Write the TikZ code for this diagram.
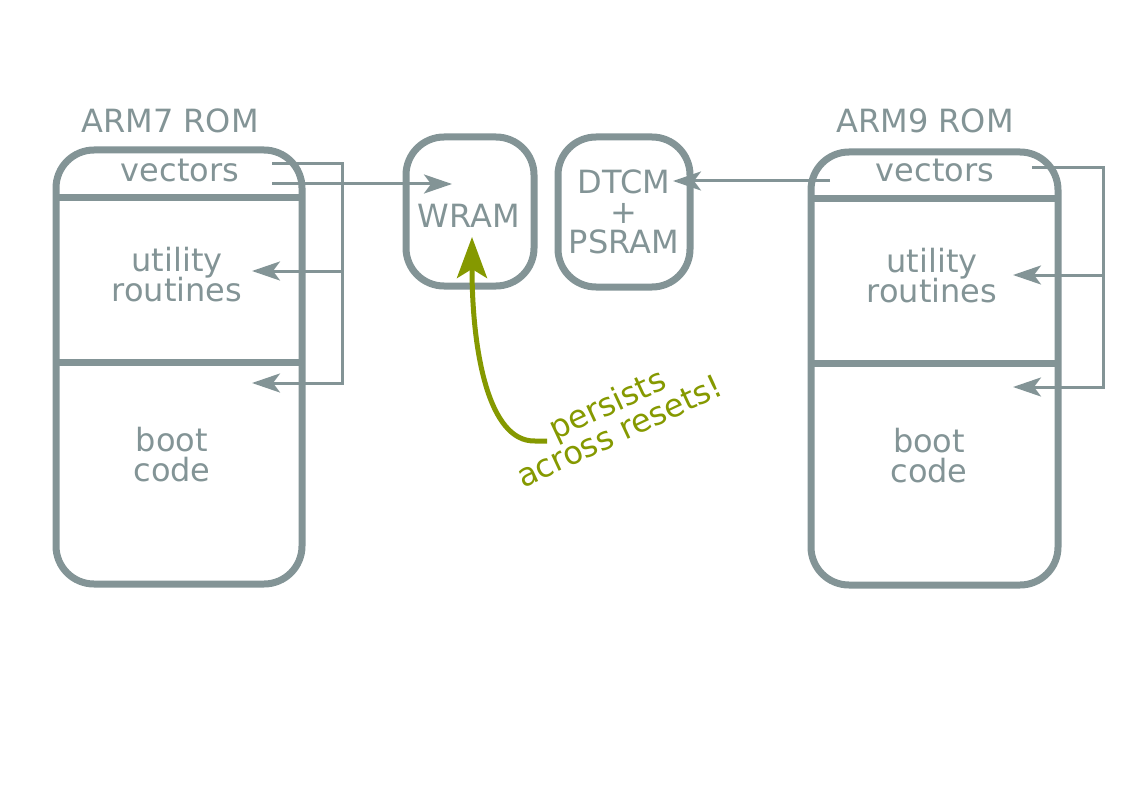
\documentclass[tikz,border=0pt]{standalone}
\usepackage{fontspec}
\setmainfont{DejaVu Sans}
\usetikzlibrary{arrows.meta, positioning}
\definecolor{solgray}{HTML}{839496}
\definecolor{solgreen}{HTML}{859900}
\newcommand\memfont{\fontsize{32}{30}\selectfont\lineskiplimit-100pt\relax}

\tikzset{
    rule/.style={draw=solgray, line width=7pt},
    mem/.style={rule, rounded corners=38pt, inner sep=0pt, outer sep=0pt},
    lbl/.style={text=solgray, inner sep=0pt, align=center, font=\memfont},
    wire/.style={draw=solgray, line width=3pt},
    link/.style={wire, -{Stealth[length=28pt, width=19pt, inset=7pt]}},
    keep/.style={draw=solgreen, line width=5pt, -{Stealth[length=41pt, width=30pt, inset=9pt]}},
}

\begin{document}
\begin{tikzpicture}[x=1pt, y=-1pt]
    \useasboundingbox (0,0) rectangle (1123,794);

    \node[mem, minimum width=246pt, minimum height=434pt]   (arm7)  at (179,367)     {};
    \node[mem, minimum width=247pt, minimum height=433pt]   (arm9)  at (934.5,368.5) {};
    \node[mem, minimum width=128pt, minimum height=149pt]   (wram)  at (470,211.5)   {};
    \node[mem, minimum width=132pt, minimum height=150pt]   (dtcm)  at (624,212)     {};

    \foreach \rom/\ya/\yb in {arm7/198/362, arm9/199/363} {
        \draw[rule] (\rom.west |- 0,\ya) -- (\rom.east |- 0,\ya);
        \draw[rule] (\rom.west |- 0,\yb) -- (\rom.east |- 0,\yb);
    }

    \node[lbl, anchor=base] (arm7 name) at (170,133)   {ARM7 ROM};
    \node[lbl, anchor=base] (arm7 vec)  at (180,182)   {vectors};
    \node[lbl]              (arm7 util) at (177,275)   {utility\\routines};
    \node[lbl]              (arm7 boot) at (172,455)   {boot\\code};
    \node[lbl, anchor=base] (arm9 name) at (925,133)   {ARM9 ROM};
    \node[lbl, anchor=base] (arm9 vec)  at (935,182)   {vectors};
    \node[lbl]              (arm9 util) at (932,276)   {utility\\routines};
    \node[lbl]              (arm9 boot) at (929,456)   {boot\\code};
    \node[lbl, anchor=base] (wram text) at (469,228)   {WRAM};
    \node[lbl]              (dtcm text) at (624,211.7) {DTCM\\+\\PSRAM};
    \node[lbl, text=solgreen, rotate=25] (persist) at (613,417) {persists\\across resets!};

    \coordinate (arm7 out)     at (272,164);
    \coordinate (arm7 ram)     at (272,184);
    \coordinate (arm7 bus)     at (342,271);
    \coordinate (arm7 util in) at (252,271);
    \coordinate (arm7 boot in) at (252,383);
    \coordinate (wram in)      at (452,184);
    \coordinate (arm9 out)     at (1032,168);
    \coordinate (arm9 ram)     at (830,181);
    \coordinate (arm9 bus)     at (1103,275);
    \coordinate (arm9 util in) at (1013,275);
    \coordinate (arm9 boot in) at (1013,387);
    \coordinate (dtcm in)      at (673,181);
    \coordinate (persist end)  at (547,441);
    \coordinate (wram hit)     at (472,237);

    \draw[link] (arm7 out) -| (arm7 bus) |- (arm7 boot in);
    \draw[link] (arm7 bus) -- (arm7 util in);
    \draw[link] (arm7 ram) -- (wram in);
    \draw[link] (arm9 out) -| (arm9 bus) |- (arm9 boot in);
    \draw[link] (arm9 bus) -- (arm9 util in);
    \draw[link] (arm9 ram) -- (dtcm in);
    \draw[keep] (persist end) -- ++(-12,0) .. controls (488,442) and (472,350) .. (wram hit);
\end{tikzpicture}
\end{document}
